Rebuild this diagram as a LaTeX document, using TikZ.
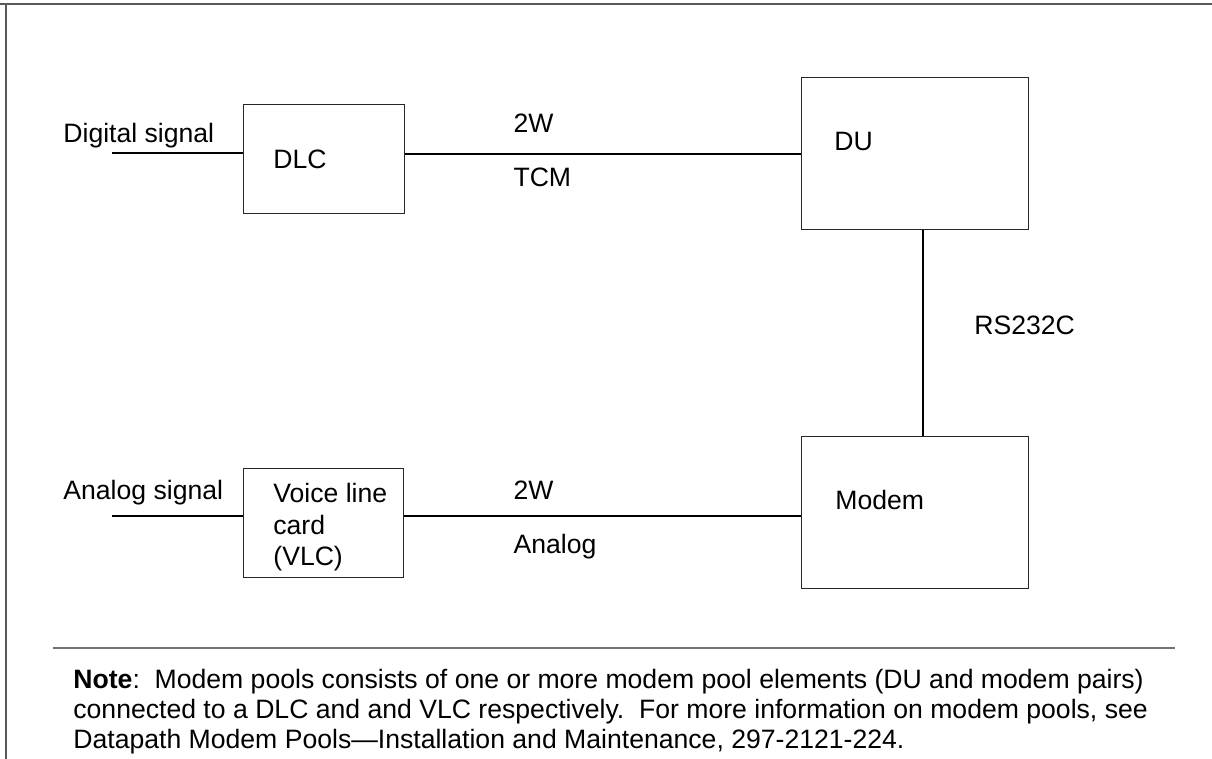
\documentclass[tikz,border=0pt]{standalone}
\usepackage{fontspec}
\setmainfont{Liberation Sans}
\usetikzlibrary{positioning}
\tikzstyle{unit}=[rectangle,draw=black!85,line width=0.5pt,inner sep=0pt]
\tikzstyle{txt}=[inner sep=0pt,font=\fontsize{13.3}{15.75}\selectfont,align=left]
\tikzstyle{wire}=[line width=1.3pt]
\tikzstyle{frame}=[draw=black!65,line width=0.8pt]
\tikzstyle{sep}=[draw=black!55,line width=0.7pt]
\begin{document}
\begin{tikzpicture}[x=0.5pt,y=-0.5pt]
\useasboundingbox (0,0) rectangle (1212,759);
% page frame and note rule
\draw[frame] (0,4) -- (1212,4);
\draw[frame] (6,4) -- (6,759);
\draw[sep] (53,648) -- (1175,648);
% units
\node[unit, minimum width=80.5pt, minimum height=54.5pt] (DLC) at (323.5,159.5) {};
\node[unit, minimum width=80pt, minimum height=54.5pt, below=127pt of DLC] (VLC) {};
\node[unit, minimum width=113.5pt, minimum height=76pt] (DU) at (914.5,154) {};
\node[unit, minimum width=113.5pt, minimum height=76pt, below=103pt of DU] (Modem) {};
\node[txt, anchor=base west] (dlctxt) at (273,169) {DLC};
\node[txt, anchor=north west] (vlctxt) at (273,483) {Voice line\\card\\(VLC)};
\node[txt, anchor=base west] (dutxt) at (834,151) {DU};
\node[txt, anchor=base west] (modemtxt) at (835,510) {Modem};
% signal inputs
\coordinate (din) at (112,153);
\coordinate (ain) at (112,516);
\node[txt, anchor=base west] (dsig) at (63,143) {Digital signal};
\node[txt, anchor=base west] (asig) at (63,500) {Analog signal};
% connections
\draw[wire] (din) -- (din -| DLC.west);
\draw[wire] (DU.west -| DLC.east) -- node[txt, pos=0.272, anchor=base west, yshift=10.5pt] (tcmtop) {2W}
  node[txt, pos=0.272, anchor=base west, yshift=-16.5pt] (tcmbot) {TCM} (DU.west);
\draw[wire] (ain) -- (ain -| VLC.west);
\draw[wire] (ain -| VLC.east) -- node[txt, pos=0.273, anchor=base west, yshift=8pt] (antop) {2W}
  node[txt, pos=0.273, anchor=base west, yshift=-18.5pt] (anbot) {Analog} (ain -| Modem.west);
\draw[wire] ([xshift=4.25pt]DU.south) -- node[txt, pos=0.505, anchor=base west, xshift=25pt] (rs) {RS232C}
  ([xshift=4.25pt]DU.south |- Modem.north);
% note
\node[txt, anchor=north west, font=\fontsize{13.3}{15}\selectfont] (note) at (73,669)
  {\textbf{Note}:\ \ Modem pools consists of one or more modem pool elements (DU and modem pairs)\\
   connected to a DLC and and VLC respectively.\ \ For more information on modem pools, see\\
   Datapath Modem Pools—Installation and Maintenance, 297-2121-224.};
\end{tikzpicture}
\end{document}
